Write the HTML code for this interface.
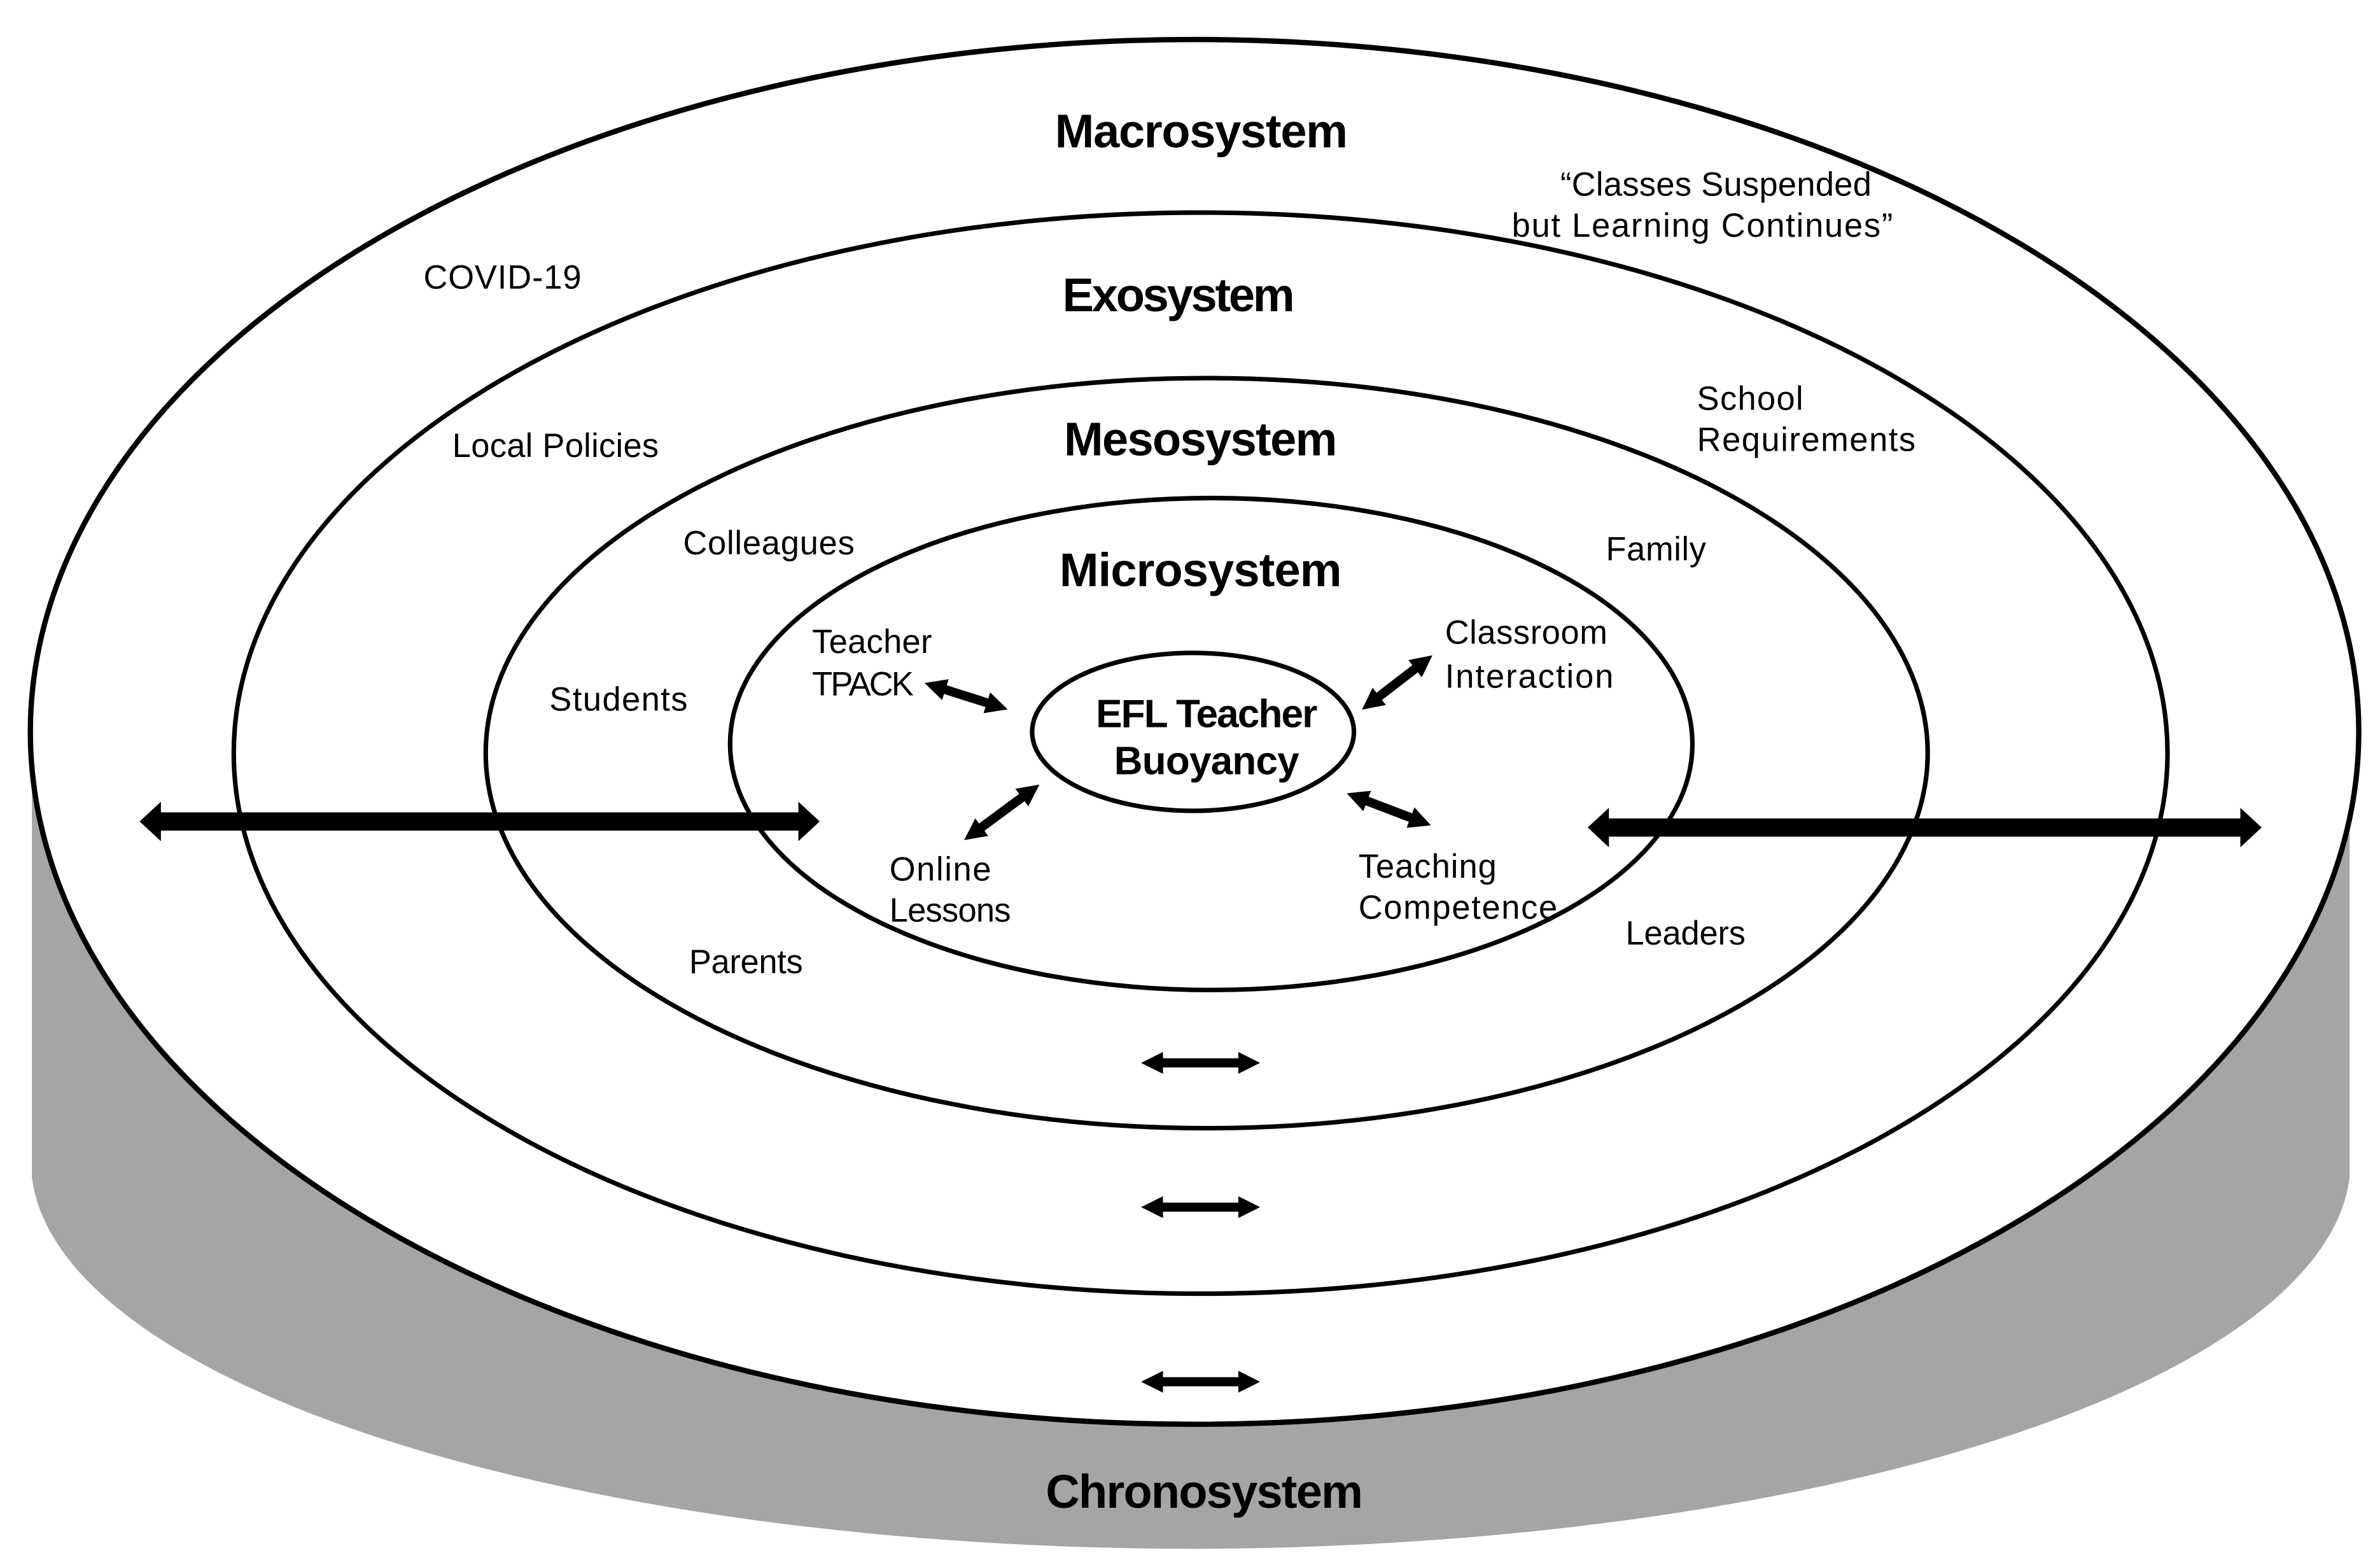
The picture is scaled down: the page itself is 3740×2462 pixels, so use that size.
<!DOCTYPE html>
<html><head><meta charset="utf-8"><style>html,body{margin:0;padding:0;background:#fff}svg{display:block}</style></head>
<body>
<svg width="3740" height="2462" viewBox="0 0 1568 1032" preserveAspectRatio="none" xmlns="http://www.w3.org/2000/svg" font-family="'Liberation Sans', sans-serif">
<defs>
<marker id="ah" viewBox="0 0 10 10" refX="5" refY="5" markerWidth="2.4" markerHeight="2.4" orient="auto-start-reverse"><path d="M0,0 L10,5 L0,10 z" fill="#000"/></marker>
</defs>
<path d="M21,480 L21,775 A766,255 0 0 0 787,1020 A766,255 0 0 0 1548,775 L1548,480 z" fill="#a5a5a5"/>
<ellipse cx="787" cy="482" rx="767" ry="456" fill="#fff" stroke="#000" stroke-width="3.5"/>
<ellipse cx="791" cy="496" rx="637" ry="356" fill="none" stroke="#000" stroke-width="3"/>
<ellipse cx="795" cy="496" rx="475" ry="247" fill="none" stroke="#000" stroke-width="3"/>
<ellipse cx="798" cy="490" rx="317" ry="162" fill="none" stroke="#000" stroke-width="3"/>
<ellipse cx="786" cy="482" rx="106" ry="52" fill="none" stroke="#000" stroke-width="3"/>
<g fill="#000">
<path d="M92,541 L106,528 L106,535 L526,535 L526,528 L540,541 L526,554 L526,547 L106,547 L106,554 z"/>
<path d="M1046,545 L1060,532 L1060,539 L1476,539 L1476,532 L1490,545 L1476,558 L1476,551 L1060,551 L1060,558 z"/>
</g>
<g stroke="#000" stroke-width="6" marker-start="url(#ah)" marker-end="url(#ah)">
<line x1="759" y1="700" x2="823" y2="700"/>
<line x1="759" y1="795" x2="823" y2="795"/>
<line x1="759" y1="910" x2="823" y2="910"/>
<line x1="616" y1="452" x2="657" y2="465"/>
<line x1="938" y1="436" x2="903" y2="463"/>
<line x1="679" y1="521" x2="641" y2="549"/>
<line x1="894" y1="525" x2="936" y2="541"/>
</g>
<g font-weight="bold" font-size="31" lengthAdjust="spacingAndGlyphs">
<text x="695" y="97" textLength="193">Macrosystem</text>
<text x="700" y="205" textLength="153">Exosystem</text>
<text x="701" y="300" textLength="180">Mesosystem</text>
<text x="698" y="386" textLength="186">Microsystem</text>
<text x="689" y="993" textLength="209">Chronosystem</text>
<text x="722" y="479" font-size="26" textLength="146">EFL Teacher</text>
<text x="734" y="510" font-size="26" textLength="122">Buoyancy</text>
</g>
<g font-size="22" lengthAdjust="spacingAndGlyphs">
<text x="1028" y="129" textLength="205">“Classes Suspended</text>
<text x="996" y="156" textLength="251">but Learning Continues”</text>
<text x="279" y="190" textLength="104">COVID-19</text>
<text x="298" y="301" textLength="136">Local Policies</text>
<text x="1118" y="270" textLength="70">School</text>
<text x="1118" y="297" textLength="144">Requirements</text>
<text x="450" y="365" textLength="113">Colleagues</text>
<text x="1058" y="369" textLength="66">Family</text>
<text x="535" y="430" textLength="79">Teacher</text>
<text x="535" y="458" textLength="67">TPACK</text>
<text x="952" y="424" textLength="107">Classroom</text>
<text x="952" y="453" textLength="111">Interaction</text>
<text x="362" y="468" textLength="91">Students</text>
<text x="586" y="580" textLength="67">Online</text>
<text x="586" y="607" textLength="80">Lessons</text>
<text x="895" y="578" textLength="91">Teaching</text>
<text x="895" y="605" textLength="131">Competence</text>
<text x="1071" y="622" textLength="79">Leaders</text>
<text x="454" y="641" textLength="75">Parents</text>
</g>
</svg>
</body></html>
